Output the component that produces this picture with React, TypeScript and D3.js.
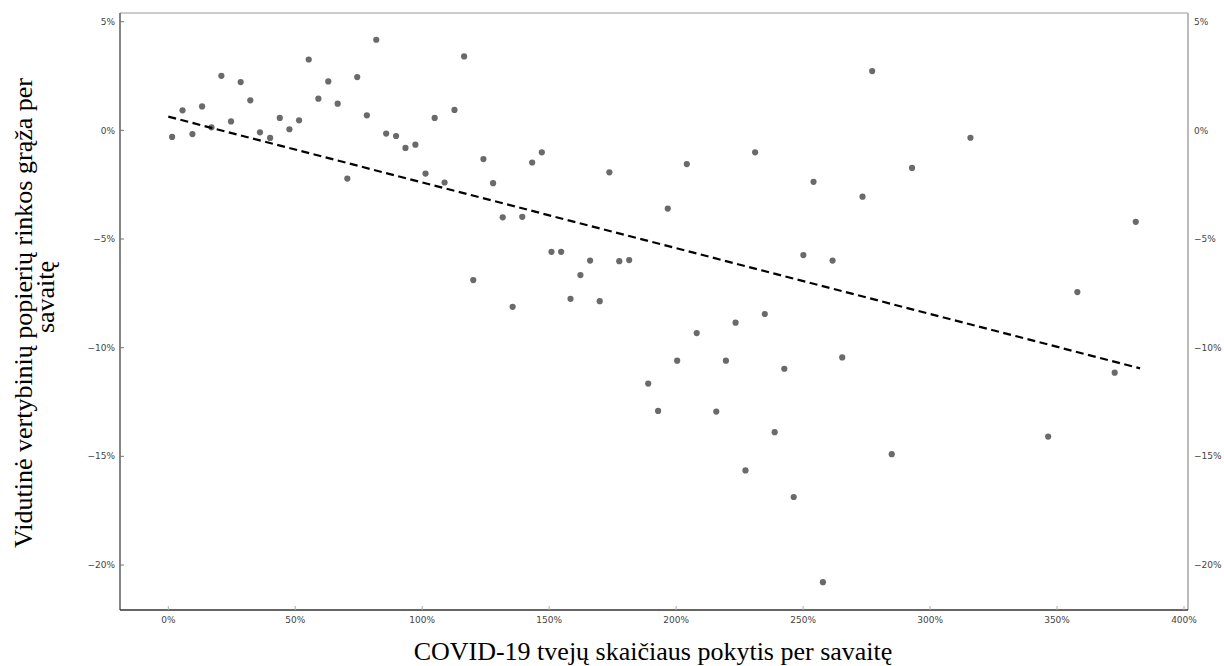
import React from "react";
import * as d3 from "d3";

const caseChange: number[] = [
  1.5, 5.6, 9.5, 13.3, 17.0, 20.9, 24.7, 28.5, 32.3, 36.1, 40.1, 43.9, 47.7, 51.5, 55.3, 59.1, 63.0, 66.7, 70.5, 74.4,
  78.2, 81.9, 85.8, 89.7, 93.4, 97.3, 101.3, 104.9, 108.8, 112.7, 116.5, 120.1, 124.1, 127.9, 131.7, 135.6, 139.4, 143.3,
  147.1, 150.9, 154.7, 158.4, 162.3, 166.1, 169.9, 173.7, 177.6, 181.5, 189.0, 192.9, 196.7, 200.4, 204.2, 208.1, 215.8,
  219.6, 223.4, 227.3, 231.1, 234.9, 238.8, 242.6, 246.3, 250.1, 254.1, 257.8, 261.6, 265.4, 273.4, 277.2, 284.9, 292.9,
  315.9, 346.5, 358.0, 372.7, 381.0,
];
const weeklyReturn: number[] = [
  -0.3, 0.92, -0.17, 1.1, 0.14, 2.51, 0.41, 2.22, 1.38, -0.09, -0.35, 0.57, 0.05, 0.46, 3.26, 1.46, 2.25, 1.23, -2.22, 2.45,
  0.69, 4.17, -0.15, -0.26, -0.81, -0.66, -1.99, 0.57, -2.4, 0.94, 3.4, -6.89, -1.32, -2.43, -4.0, -8.12, -3.98, -1.48,
  -1.01, -5.59, -5.59, -7.75, -6.66, -5.99, -7.86, -1.93, -6.02, -5.97, -11.65, -12.91, -3.6, -10.6, -1.55, -9.33, -12.94,
  -10.6, -8.85, -15.65, -1.01, -8.45, -13.89, -10.97, -16.87, -5.74, -2.37, -20.79, -5.99, -10.45, -3.05, 2.73, -14.9, -1.73,
  -0.34, -14.09, -7.44, -11.15, -4.21,
];
const trendX: number[] = [0, 382.7];
const trendY: number[] = [0.63, -10.95];
const xTicks: number[] = [0, 50, 100, 150, 200, 250, 300, 350, 400];
const yTicks: number[] = [5, 0, -5, -10, -15, -20];
const xTitle = "COVID-19 tvejų skaičiaus pokytis per savaitę";
const yTitleLines = ["Vidutinė vertybinių popierių rinkos grąža per", "savaitę"];

export default function App() {
  const W = 1224, H = 666;
  const left = 120, right = 1188, top = 13, bottom = 610;
  const x = d3.scaleLinear().domain([0, 400]).range([168.3, 1184]);
  const y = d3.scaleLinear().domain([5, -20]).range([21.7, 565]);
  const line = d3.line<[number, number]>().x((d) => x(d[0])).y((d) => y(d[1]));
  const trend: [number, number][] = trendX.map((v, i) => [v, trendY[i]]);
  const tickFont = "'DejaVu Sans', sans-serif";
  const serif = "'Liberation Serif', 'Times New Roman', serif";
  return (
    <svg width={W} height={H} style={{ position: "absolute", left: 0, top: 0, background: "#fff" }}>
      {/* frame */}
      <line x1={left} x2={right} y1={top} y2={top} stroke="#999" strokeWidth={1.2} />
      <line x1={right} x2={right} y1={top} y2={bottom} stroke="#aaa" strokeWidth={1.6} />
      <line x1={left} x2={left} y1={top} y2={bottom} stroke="#666" strokeWidth={1.6} />
      <line x1={left} x2={right} y1={bottom} y2={bottom} stroke="#333" strokeWidth={1.6} />
      {/* y ticks */}
      {yTicks.map((t) => (
        <g key={"y" + t}>
          <line x1={left} x2={left + 4} y1={y(t)} y2={y(t)} stroke="#777" strokeWidth={1} />
          <text x={left - 5} y={y(t)} dy="0.35em" textAnchor="end" fontFamily={tickFont} fontSize={9} fill="#444">
            {d3.format("d")(t) + "%"}
          </text>
          <text x={right + 6} y={y(t)} dy="0.35em" textAnchor="start" fontFamily={tickFont} fontSize={9} fill="#444">
            {d3.format("d")(t) + "%"}
          </text>
        </g>
      ))}
      {/* x ticks */}
      {xTicks.map((t) => (
        <g key={"x" + t}>
          <line x1={x(t)} x2={x(t)} y1={bottom} y2={bottom - 4} stroke="#aaa" strokeWidth={1} />
          <text x={x(t)} y={bottom + 10} dy="0.35em" textAnchor="middle" fontFamily={tickFont} fontSize={9} fill="#444">
            {t + "%"}
          </text>
        </g>
      ))}
      {/* points */}
      {caseChange.map((v, i) => (
        <circle key={i} cx={x(v)} cy={y(weeklyReturn[i])} r={3.1} fill="#6a6a6a" />
      ))}
      {/* trend */}
      <path d={line(trend) || ""} fill="none" stroke="#000" strokeWidth={2.2} strokeDasharray="8,4.5" />
      {/* titles */}
      <text x={653} y={660} textAnchor="middle" fontFamily={serif} fontSize={26} fill="#000">
        {xTitle}
      </text>
      <text transform="translate(32,313) rotate(-90)" textAnchor="middle" fontFamily={serif} fontSize={26} fill="#000">
        {yTitleLines[0]}
      </text>
      <text transform="translate(54,297) rotate(-90)" textAnchor="middle" fontFamily={serif} fontSize={26} fill="#000">
        {yTitleLines[1]}
      </text>
    </svg>
  );
}
